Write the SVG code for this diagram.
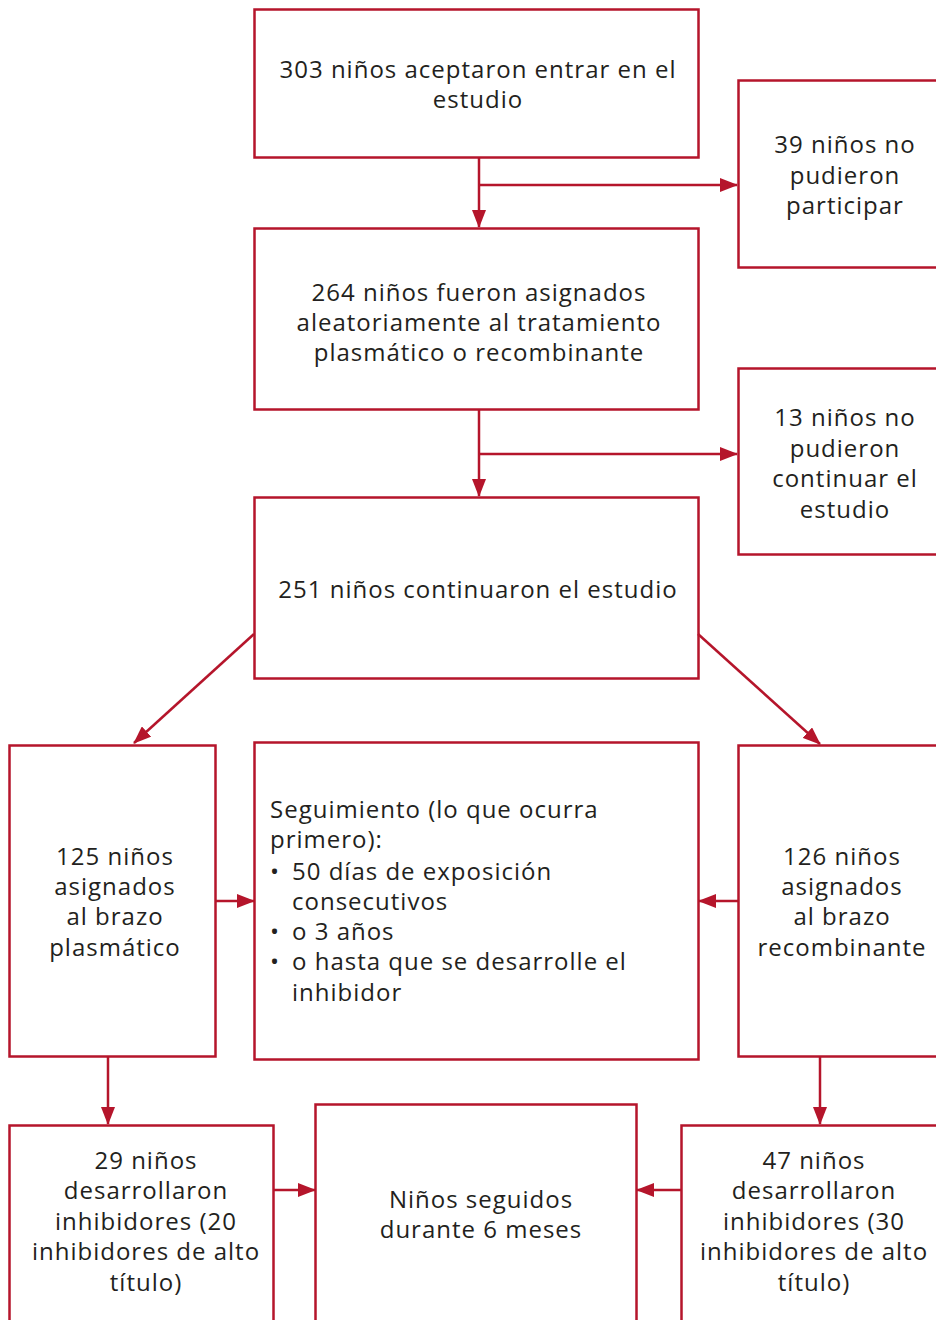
<svg xmlns="http://www.w3.org/2000/svg" width="936" height="1320" viewBox="0 0 936 1320">
<defs>
<style>
.box{fill:#fff;stroke:#b5152b;stroke-width:2.5}
.t{font-family:"Open Sans","Liberation Sans",sans-serif;font-size:24px;letter-spacing:1px;fill:#231f20;text-anchor:middle}
.l{font-family:"Open Sans","Liberation Sans",sans-serif;font-size:24px;letter-spacing:1px;fill:#231f20}
.c{stroke:#b5152b;stroke-width:2.5;fill:none}
</style>
<marker id="ah" markerUnits="userSpaceOnUse" markerWidth="18" markerHeight="14" refX="17" refY="7" orient="auto">
<path d="M0,0 L18,7 L0,14 Z" fill="#b5152b"/>
</marker>
</defs>
<rect width="936" height="1320" fill="#fff"/>
<g id="n1"><rect class="box" x="254.5" y="9.5" width="444" height="148"/>
<text class="t" x="478" y="78">303 niños aceptaron entrar en el</text>
<text class="t" x="478" y="108">estudio</text></g>
<g id="n2"><rect class="box" x="738.5" y="80.5" width="210" height="187"/>
<text class="t" x="845" y="153">39 niños no</text>
<text class="t" x="845" y="184">pudieron</text>
<text class="t" x="845" y="214">participar</text></g>
<g id="n3"><rect class="box" x="254.5" y="228.5" width="444" height="181"/>
<text class="t" x="479" y="301">264 niños fueron asignados</text>
<text class="t" x="479" y="331">aleatoriamente al tratamiento</text>
<text class="t" x="479" y="361">plasmático o recombinante</text></g>
<g id="n4"><rect class="box" x="738.5" y="368.5" width="210" height="186"/>
<text class="t" x="845" y="426">13 niños no</text>
<text class="t" x="845" y="457">pudieron</text>
<text class="t" x="845" y="487">continuar el</text>
<text class="t" x="845" y="518">estudio</text></g>
<g id="n5"><rect class="box" x="254.5" y="497.5" width="444" height="181"/>
<text class="t" x="478" y="598">251 niños continuaron el estudio</text></g>
<g id="n6"><rect class="box" x="9.5" y="745.5" width="206" height="311"/>
<text class="t" x="115" y="865">125 niños</text>
<text class="t" x="115" y="895">asignados</text>
<text class="t" x="115" y="925">al brazo</text>
<text class="t" x="115" y="956">plasmático</text></g>
<g id="n7"><rect class="box" x="254.5" y="742.5" width="444" height="317"/>
<text class="l" x="270" y="818">Seguimiento (lo que ocurra</text>
<text class="l" x="270" y="848">primero):</text>
<text class="l" x="270" y="880">•</text><text class="l" x="292" y="880">50 días de exposición</text>
<text class="l" x="292" y="910">consecutivos</text>
<text class="l" x="270" y="940">•</text><text class="l" x="292" y="940">o 3 años</text>
<text class="l" x="270" y="970">•</text><text class="l" x="292" y="970">o hasta que se desarrolle el</text>
<text class="l" x="292" y="1001">inhibidor</text></g>
<g id="n8"><rect class="box" x="738.5" y="745.5" width="210" height="311"/>
<text class="t" x="842" y="865">126 niños</text>
<text class="t" x="842" y="895">asignados</text>
<text class="t" x="842" y="925">al brazo</text>
<text class="t" x="842" y="956">recombinante</text></g>
<g id="n9"><rect class="box" x="9.5" y="1125.5" width="264" height="210"/>
<text class="t" x="146" y="1169">29 niños</text>
<text class="t" x="146" y="1199">desarrollaron</text>
<text class="t" x="146" y="1230">inhibidores (20</text>
<text class="t" x="146" y="1260">inhibidores de alto</text>
<text class="t" x="146" y="1291">título)</text></g>
<g id="n10"><rect class="box" x="315.5" y="1104.5" width="321" height="230"/>
<text class="t" x="481" y="1208">Niños seguidos</text>
<text class="t" x="481" y="1238">durante 6 meses</text></g>
<g id="n11"><rect class="box" x="681.5" y="1125.5" width="264" height="210"/>
<text class="t" x="814" y="1169">47 niños</text>
<text class="t" x="814" y="1199">desarrollaron</text>
<text class="t" x="814" y="1230">inhibidores (30</text>
<text class="t" x="814" y="1260">inhibidores de alto</text>
<text class="t" x="814" y="1291">título)</text></g>
<g id="connectors">
<line class="c" x1="479" y1="158" x2="479" y2="227" marker-end="url(#ah)"/>
<line class="c" x1="479" y1="185" x2="737" y2="185" marker-end="url(#ah)"/>
<line class="c" x1="479" y1="410" x2="479" y2="496" marker-end="url(#ah)"/>
<line class="c" x1="479" y1="454" x2="737" y2="454" marker-end="url(#ah)"/>
<line class="c" x1="254" y1="634" x2="134" y2="743" marker-end="url(#ah)"/>
<line class="c" x1="698" y1="634" x2="820" y2="744" marker-end="url(#ah)"/>
<line class="c" x1="216" y1="901" x2="254" y2="901" marker-end="url(#ah)"/>
<line class="c" x1="738" y1="901" x2="699" y2="901" marker-end="url(#ah)"/>
<line class="c" x1="108" y1="1057" x2="108" y2="1124" marker-end="url(#ah)"/>
<line class="c" x1="820" y1="1057" x2="820" y2="1124" marker-end="url(#ah)"/>
<line class="c" x1="274" y1="1190" x2="315" y2="1190" marker-end="url(#ah)"/>
<line class="c" x1="681" y1="1190" x2="637" y2="1190" marker-end="url(#ah)"/>
</g>
</svg>
